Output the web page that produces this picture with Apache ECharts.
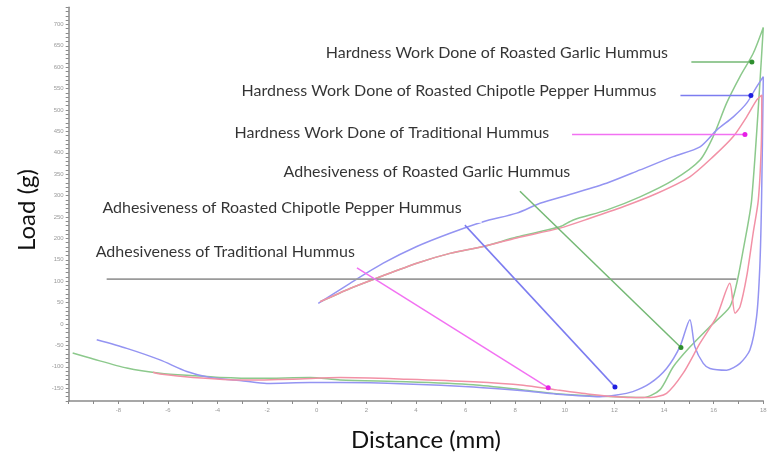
<!DOCTYPE html>
<html><head><meta charset="utf-8">
<script src="https://cdn.jsdelivr.net/npm/echarts@6/dist/echarts.min.js"></script>
<style>html,body{margin:0;padding:0;background:#fff}#c{width:775px;height:456px}</style>
</head><body><div id="c"></div>
<script>
// ---- tick labels ----
const xTickLabels = [-8,-6,-4,-2,0,2,4,6,8,10,12,14,16,18];
const yTickLabels = [700,650,600,550,500,450,400,350,300,250,200,150,100,50,0,-50,-100,-150];

// ---- curves (distance mm, load g) ----
const garlicX = [0.14,1.34,2.41,4.03,5.37,6.71,8.06,9.80,10.34,11.68,13.03,14.37,15.45,15.98,16.52,17.06,17.59,18.0,17.53,17.19,16.93,16.65,15.85,15.04,14.37,13.83,13.16,12.06,11.0,9.67,8.32,6.31,3.62,0.94,-0.27,-2.29,-3.9,-4.98,-6.32,-7.66,-9.01,-9.84];
const garlicY = [52,83,107,142,165,181,203,227,243,266,297,336,383,438,516,578,632,693,290,173,95,40,-6,-54,-100,-154,-172,-170,-168,-163,-154,-142,-135,-131,-125,-127,-125,-121,-115,-103,-82,-68];

const chipotleX = [0.06,1.34,2.68,4.03,5.37,6.71,8.06,9.0,10.34,11.68,13.03,14.37,15.45,16.12,16.79,17.33,17.73,18.0,17.93,17.86,17.73,17.46,17.06,16.52,15.85,15.58,15.24,15.04,14.64,14.10,13.43,12.74,12.09,11.41,9.67,8.32,6.31,3.62,0.94,-0.27,-2.02,-2.96,-4.30,-5.24,-6.32,-7.66,-8.87];
const chipotleY = [48,95,142,181,212,239,259,282,305,329,360,391,414,453,484,516,554,578,290,134,17,-61,-92,-108,-104,-92,-53,10,-53,-104,-139,-158,-166,-170,-164,-156,-147,-140,-137,-137,-139,-133,-125,-111,-84,-57,-37];

const traditionalX = [0.13,1.34,2.41,4.03,5.37,6.71,8.06,9.80,11.01,12.35,13.70,15.04,15.98,16.79,17.33,17.73,17.94,17.92,17.8,17.59,17.33,17.06,16.86,16.65,16.12,15.45,14.77,14.10,13.43,12.35,11.0,9.67,8.32,6.31,3.62,0.94,-0.96,-2.98,-4.99,-6.32,-6.6];
const traditionalY = [52,83,107,142,165,181,201,224,247,274,305,344,391,438,484,523,535,420,290,212,111,40,25,95,17,-45,-115,-162,-172,-171,-164,-154,-143,-135,-129,-125,-129,-131,-125,-117,-113];

// ---- annotations ----
const annotationTexts = [
  'Hardness Work Done of Roasted Garlic Hummus',
  'Hardness Work Done of Roasted Chipotle Pepper Hummus',
  'Hardness Work Done of Traditional Hummus',
  'Adhesiveness of Roasted Garlic Hummus',
  'Adhesiveness of Roasted Chipotle Pepper Hummus',
  'Adhesiveness of Traditional Hummus'
];
const annotationX = [7.26, 5.33, 3.03, 4.44, -1.40, -3.69];
const annotationY = [633, 544, 446, 355, 271, 168];

// arrows: start and end points
const arrowStartX = [15.1, 14.66, 10.29, 8.19, 5.97, 1.62];
const arrowStartY = [612, 534, 443, 310, 231, 131];
const arrowEndX   = [17.54, 17.5, 17.26, 14.68, 12.02, 9.33];
const arrowEndY   = [612, 534, 443, -55, -147, -149];
const arrowKind   = ['garlic','chipotle','traditional','garlic','chipotle','traditional'];

const refLineX = [-8.47, 16.92];
const refLineY = [105, 105];

const curveColor = {garlic:'#8cc98c', chipotle:'#9494f2', traditional:'#f291a6'};
const arrowColor = {garlic:'#74b874', chipotle:'#7c7cf0', traditional:'#f271f2'};
const dotColor   = {garlic:'#2f8f2f', chipotle:'#1f1fe0', traditional:'#e61fe6'};

function pairs(xs, ys){ return xs.map((x,i)=>[x, ys[i]]); }

const series = [];
[['garlic',garlicX,garlicY],['chipotle',chipotleX,chipotleY],['traditional',traditionalX,traditionalY]].forEach(([k,xs,ys])=>{
  series.push({type:'line', data:pairs(xs,ys), showSymbol:false, symbol:'none', smooth:0.25,
    lineStyle:{color:curveColor[k], width:1.5}, z:2, silent:true});
});
series.push({type:'line', data:pairs(refLineX, refLineY), symbol:'none',
  lineStyle:{color:'#9a9a9a', width:1.8}, z:3, silent:true});
arrowKind.forEach((k,i)=>{
  series.push({type:'line', z:4, silent:true,
    data:[{value:[arrowStartX[i],arrowStartY[i]], symbol:'none'},
          {value:[arrowEndX[i],arrowEndY[i]], symbol:'circle', symbolSize:5, itemStyle:{color:dotColor[k]}}],
    showSymbol:true, lineStyle:{color:arrowColor[k], width:1.5}});
});
series.push({type:'scatter', z:10, silent:true, symbolSize:0,
  data: annotationTexts.map((t,i)=>({value:[annotationX[i], annotationY[i]], name:t})),
  label:{show:true, position:'inside', formatter:p=>p.name, color:'#000000',
    fontFamily:'Lato', fontSize:16, backgroundColor:'#ffffff', padding:[7,20,7,20]}});

const chart = echarts.init(document.getElementById('c'), null, {renderer:'canvas'});
chart.setOption({
  animation:false,
  backgroundColor:'#ffffff',
  grid:{left:68.7, right:11.7, top:7.3, bottom:55},
  xAxis:{type:'value', min:-10, max:18, interval:1,
    axisLine:{onZero:false, lineStyle:{color:'#8a8a8a', width:1.5}},
    axisTick:{show:true, length:3, lineStyle:{color:'#8a8a8a'}},
    splitLine:{show:false},
    axisLabel:{fontSize:6, color:'#9a9a9a', margin:6,
      formatter:v=> xTickLabels.indexOf(v)>=0 ? String(v) : ''}},
  yAxis:{type:'value', min:-180, max:740, interval:10,
    axisLine:{show:true, onZero:false, lineStyle:{color:'#8a8a8a', width:1.5}},
    axisTick:{show:true, length:3, lineStyle:{color:'#8a8a8a'}},
    splitLine:{show:false},
    axisLabel:{fontSize:6, color:'#9a9a9a', margin:5,
      formatter:v=> yTickLabels.indexOf(v)>=0 ? String(v) : ''}},
  graphic:[
    {type:'text', x:27, y:210, rotation:Math.PI/2,
      style:{text:'Load (g)', font:'24px Lato', fill:'#111', align:'center', verticalAlign:'middle'}},
    {type:'text', x:426, y:440,
      style:{text:'Distance (mm)', font:'24px Lato', fill:'#111', align:'center', verticalAlign:'middle'}}
  ],
  series
});
</script></body></html>
